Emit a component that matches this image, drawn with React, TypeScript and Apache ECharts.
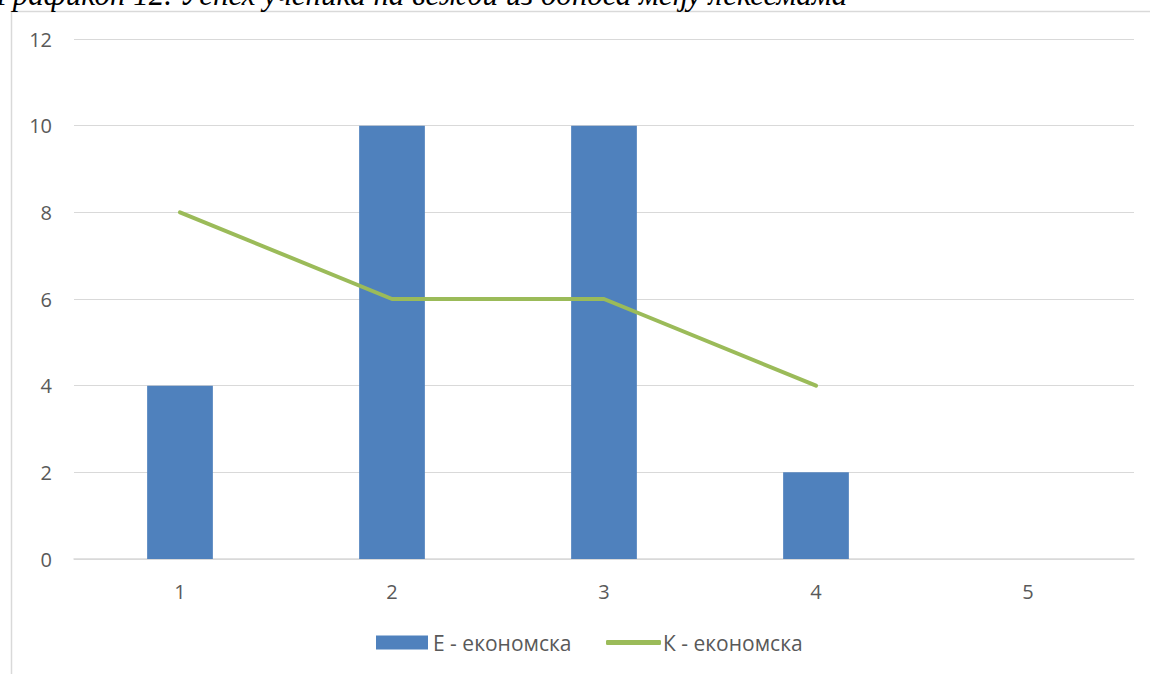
import React, { useEffect, useRef } from "react";
import * as echarts from "echarts";

const categories = ["1", "2", "3", "4", "5"];
const seriesE = [4, 10, 10, 2, 0];
const seriesK: (number | null)[] = [8, 6, 6, 4, null];
const seriesNames = ["Е - економска", "К - економска"];
const titleText = "Графикон 12. Успех ученика на вежби из односа међу лексемама";

export default function App() {
  const ref = useRef<HTMLDivElement>(null);
  useEffect(() => {
    if (!ref.current) return;
    const chart = echarts.init(ref.current, null, { renderer: "svg" });
    const font = "Open Sans, Noto Sans, sans-serif";
    chart.setOption({
      animation: false,
      backgroundColor: "#ffffff",
      graphic: [
        {
          type: "rect",
          shape: { x: 11.5, y: 11.5, width: 1150, height: 700 },
          style: { fill: "none", stroke: "#d9d9d9", lineWidth: 1.5 },
          silent: true,
        },
        {
          type: "text",
          x: -4,
          y: 10,
          style: {
            text: titleText,
            font: "italic 31px 'Liberation Serif', 'DejaVu Serif', serif",
            fill: "#000000",
            textVerticalAlign: "bottom",
          },
          z: 10,
        },
      ],
      legend: [
        {
          left: 376,
          top: 632,
          itemWidth: 52,
          itemHeight: 14,
          itemGap: 6,
          data: [{ name: seriesNames[0], icon: "rect" }],
          textStyle: { color: "#595959", fontSize: 21, fontFamily: font, padding: [0, 0, 0, 0] },
          padding: 0,
        },
        {
          left: 606,
          top: 632,
          itemWidth: 55,
          itemHeight: 5,
          data: [{ name: seriesNames[1], icon: "roundRect" }],
          itemStyle: { color: "#9BBB59" },
          textStyle: { color: "#595959", fontSize: 21, fontFamily: font, padding: [0, 0, 0, -3] },
          padding: 0,
        },
      ],
      grid: { left: 74, right: 16, top: 39, bottom: 115, containLabel: false },
      xAxis: {
        type: "category",
        data: categories,
        boundaryGap: true,
        axisLine: { show: true, lineStyle: { color: "#d9d9d9", width: 1.5 } },
        axisTick: { show: false },
        axisLabel: { color: "#595959", fontSize: 20, fontFamily: font, margin: 22 },
      },
      yAxis: {
        type: "value",
        min: 0,
        max: 12,
        interval: 2,
        axisLine: { show: false },
        axisTick: { show: false },
        splitLine: { lineStyle: { color: "#d9d9d9", width: 1 } },
        axisLabel: { color: "#595959", fontSize: 20, fontFamily: font, margin: 22 },
      },
      series: [
        {
          name: seriesNames[0],
          type: "bar",
          data: seriesE,
          barWidth: "31%",
          itemStyle: { color: "#4F81BD" },
        },
        {
          name: seriesNames[1],
          type: "line",
          data: seriesK,
          symbol: "none",
          lineStyle: { color: "#9BBB59", width: 4, cap: "round" },
          itemStyle: { color: "#9BBB59" },
        },
      ],
    });
    return () => chart.dispose();
  }, []);
  return (
    <div
      ref={ref}
      style={{ position: "absolute", left: 0, top: 0, width: 1150, height: 674 }}
    />
  );
}
